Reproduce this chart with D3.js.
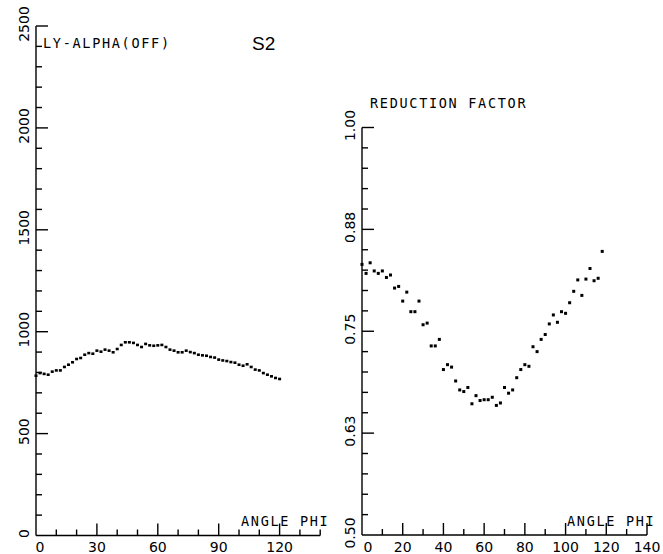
<html lang="en">
<head>
    <meta charset="UTF-8"/>
    <title>S2</title>
    <style>
        body { margin: 0; background: #fff; }
        svg { display: block; }
        line.ax { stroke: #000; stroke-width: 1.4; }
        .tick-label { font-family: "DejaVu Sans", sans-serif; font-size: 14px; fill: #000; }
        .plotter { font-family: "DejaVu Sans Mono", monospace; font-size: 13.5px; letter-spacing: 1.7px; fill: #000; }
        .title { font-family: "Liberation Sans", Arial, sans-serif; font-size: 19px; fill: #000; }
    </style>
</head>
<body>
<svg width="663" height="554"></svg>
<script src="https://d3js.org/d3.v7.min.js"></script>
<script>
    // left panel: LY-ALPHA(OFF) counts vs angle phi (every 2 deg)
    const phiLeft = d3.range(0, 121, 2);
    const lyAlpha = [784, 797, 793, 789, 804, 810, 810, 827, 838, 850,
        866, 871, 887, 895, 892, 907, 902, 912, 907, 899,
        915, 935, 948, 948, 945, 935, 925, 940, 933, 931,
        933, 935, 925, 912, 907, 899, 899, 907, 900, 895,
        887, 884, 882, 876, 873, 863, 859, 856, 851, 848,
        838, 833, 840, 827, 814, 810, 797, 789, 781, 773, 768];

    // right panel: reduction factor vs angle phi
    const phiRight = d3.range(0, 119, 2);
    const reduction = [0.832, 0.821, 0.834, 0.824, 0.821, 0.824, 0.816, 0.819, 0.803, 0.805,
        0.787, 0.798, 0.774, 0.774, 0.787, 0.758, 0.760, 0.732, 0.732, 0.740,
        0.703, 0.709, 0.706, 0.689, 0.678, 0.676, 0.681, 0.661, 0.671, 0.665,
        0.666, 0.666, 0.669, 0.659, 0.662, 0.681, 0.674, 0.678, 0.693, 0.703,
        0.709, 0.707, 0.731, 0.725, 0.740, 0.746, 0.759, 0.770, 0.761, 0.774,
        0.772, 0.785, 0.799, 0.813, 0.794, 0.814, 0.827, 0.812, 0.815, 0.848];

    const leftXMajor = [0, 30, 60, 90, 120];
    const leftXLabels = ["0", "30", "60", "90", "120"];
    const leftYMajor = [0, 500, 1000, 1500, 2000, 2500];
    const leftYLabels = ["0", "500", "1000", "1500", "2000", "2500"];
    const rightXMajor = [0, 20, 40, 60, 80, 100, 120, 140];
    const rightXLabels = ["0", "20", "40", "60", "80", "100", "120", "140"];
    const rightYMajor = [0.5, 0.625, 0.75, 0.875, 1.0];
    const rightYLabels = ["0.50", "0.63", "0.75", "0.88", "1.00"];

    const svg = d3.select("svg");

    function panel(o) {
        const x = d3.scaleLinear().domain([0, 140]).range(o.xRange);
        const y = d3.scaleLinear().domain(o.yDomain).range(o.yRange);
        const g = svg.append("g");
        const x0 = x(0), y0 = y(o.yDomain[0]);

        // axis lines
        g.append("line").attr("class", "ax").attr("x1", x0).attr("x2", x(140)).attr("y1", y0).attr("y2", y0);
        g.append("line").attr("class", "ax").attr("x1", x0).attr("x2", x0).attr("y1", y0).attr("y2", y(o.yDomain[1]));

        // x ticks (inward)
        const xt = d3.range(10, 141, 10);
        g.append("g").selectAll("line").data(xt).join("line").attr("class", "ax")
            .attr("x1", d => x(d)).attr("x2", d => x(d))
            .attr("y1", y0).attr("y2", d => y0 - (o.xMajor.includes(d) ? 12 : 6));

        // y ticks (inward)
        g.append("g").selectAll("line").data(o.yMinor).join("line").attr("class", "ax")
            .attr("x1", x0).attr("x2", d => x0 + (o.yMajor.some(m => Math.abs(m - d) < 1e-9) ? 12 : 6))
            .attr("y1", d => y(d)).attr("y2", d => y(d));

        // x labels
        g.append("g").selectAll("text").data(o.xMajor).join("text").attr("class", "tick-label")
            .attr("x", d => x(d) + (d === 0 ? o.zeroShift : 0)).attr("y", y0 + 16.5)
            .attr("text-anchor", "middle").text((d, i) => o.xLabels[i]);

        // y labels (rotated)
        g.append("g").selectAll("text").data(o.yMajor).join("text").attr("class", "tick-label")
            .attr("text-anchor", "middle")
            .attr("transform", d => `translate(${x0 - 7.5},${y(d) - 2}) rotate(-90)`)
            .text((d, i) => o.yLabels[i]);

        g.append("g").selectAll("rect")
            .data(o.xs.map((p, i) => [p, o.ys[i]]))
            .join("rect")
            .attr("x", d => x(d[0]) - o.dot[0] / 2)
            .attr("y", d => y(d[1]) - o.dot[1] / 2)
            .attr("width", o.dot[0])
            .attr("height", o.dot[1])
            .attr("fill", "#000");

        g.append("text").attr("class", "plotter").attr("x", o.angleX).attr("y", y0 - 9.5).text("ANGLE PHI");
    }

    panel({
        xRange: [36, 320.2], yDomain: [0, 2500], yRange: [535.5, 26],
        xs: phiLeft, ys: lyAlpha, xMajor: leftXMajor, xLabels: leftXLabels,
        yMajor: leftYMajor, yLabels: leftYLabels, yMinor: d3.range(100, 2501, 100),
        zeroShift: 4, dot: [3, 2.6], angleX: 241
    });
    panel({
        xRange: [362, 647], yDomain: [0.5, 1.0], yRange: [535, 127.5],
        xs: phiRight, ys: reduction, xMajor: rightXMajor, xLabels: rightXLabels,
        yMajor: rightYMajor, yLabels: rightYLabels, yMinor: d3.range(1, 21).map(i => 0.5 + i * 0.025),
        zeroShift: 6, dot: [3, 3], angleX: 567
    });

    svg.append("text").attr("class", "plotter").attr("x", 43).attr("y", 48).text("LY-ALPHA(OFF)");
    svg.append("text").attr("class", "title").attr("x", 252).attr("y", 50).text("S2");
    svg.append("text").attr("class", "plotter").attr("x", 370).attr("y", 108).text("REDUCTION FACTOR");
</script>
</body>
</html>
